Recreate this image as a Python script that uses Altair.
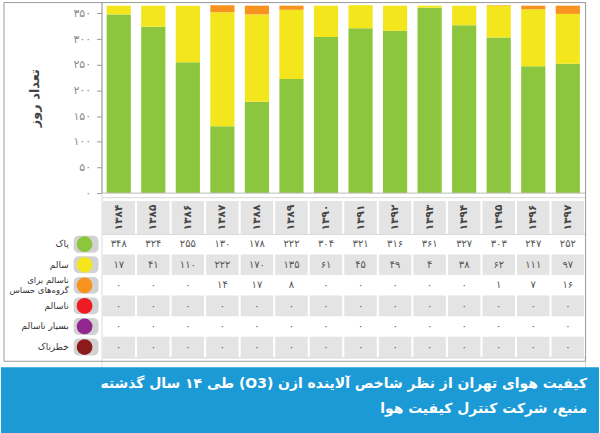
import altair as alt
import pandas as pd

years = [1384, 1385, 1386, 1387, 1388, 1389, 1390, 1391, 1392, 1393, 1394, 1395, 1396, 1397]
clean = [348, 324, 255, 130, 178, 222, 304, 321, 316, 361, 327, 303, 247, 252]
healthy = [17, 41, 110, 222, 170, 135, 61, 45, 49, 4, 38, 62, 111, 97]
sensitive = [0, 0, 0, 14, 17, 8, 0, 0, 0, 0, 0, 1, 7, 16]
unhealthy = [0] * 14
very_unhealthy = [0] * 14
hazardous = [0] * 14

categories = ["پاک", "سالم", "ناسالم برای\nگروه‌های حساس", "ناسالم", "بسیار ناسالم", "خطرناک"]
cat_colors = ["#8cc63f", "#f4e61c", "#f7931e", "#ed1c24", "#92278f", "#8b1a1a"]
series = [clean, healthy, sensitive, unhealthy, very_unhealthy, hazardous]

y_title = "تعداد روز"
y_ticks = [0, 50, 100, 150, 200, 250, 300, 350]
caption_lines = ["کیفیت هوای تهران از نظر شاخص آلاینده ازن (O3) طی ۱۴ سال گذشته",
                 "منبع، شرکت کنترل کیفیت هوا"]

FONT = "DejaVu Sans"
FA = str.maketrans("0123456789", "۰۱۲۳۴۵۶۷۸۹")
RLE, PDF = "\u202b", "\u202c"


def fa(v):
    return str(v).translate(FA)


def rtl(s):
    return RLE + s + PDF


label_expr = "datum.label"
for d, p in zip("0123456789", "۰۱۲۳۴۵۶۷۸۹"):
    label_expr = f"replace({label_expr}, regexp('{d}', 'g'), '{p}')"

rows = []
for ci, (cat, vals) in enumerate(zip(categories, series)):
    for y, v in zip(years, vals):
        rows.append({"year": str(y), "year_fa": fa(y), "cat": cat, "ci": ci,
                     "days": v, "days_fa": fa(v)})
df = pd.DataFrame(rows)
year_str = [str(y) for y in years]

W = 486
Y_SCALE = alt.Scale(domain=[0, 372], range=[192, 0], nice=False)
Y_AXIS = alt.Axis(values=y_ticks, title=y_title, grid=False,
                  labelExpr=label_expr, labelColor="#8a8a8a", labelFontSize=11,
                  labelOverlap=False, labelPadding=6, tickColor="#9a9a9a",
                  tickSize=5, domainColor="#9a9a9a", titleFontSize=13,
                  titleFontWeight="bold", titleColor="#444", titlePadding=32)
color_scale = alt.Scale(domain=categories, range=cat_colors)
x_bar = alt.X("year:N", sort=year_str, axis=None,
              scale=alt.Scale(paddingInner=0.3, paddingOuter=0.15))
x_cell = alt.X("year:N", sort=year_str, axis=None,
               scale=alt.Scale(paddingInner=0.06, paddingOuter=0.03))

# ---- bars panel
bars = alt.Chart(df[df.ci < 3]).mark_bar().encode(
    x=x_bar,
    y=alt.Y("days:Q", stack="zero", scale=Y_SCALE, axis=Y_AXIS, title=y_title),
    color=alt.Color("cat:N", scale=color_scale, legend=None),
    order=alt.Order("ci:Q"),
)
baseline = alt.Chart(pd.DataFrame({"days": [0]})).mark_rule(color="#bbbbbb").encode(
    y=alt.Y("days:Q", scale=Y_SCALE, axis=Y_AXIS, title=y_title)
)
bar_panel = alt.layer(bars, baseline).properties(width=W, height=196)

# ---- header panel
hdr_df = df[df.ci == 0]
hdr_rect = alt.Chart(hdr_df).mark_rect(color="#e4e4e4").encode(
    x=x_cell, y=alt.value(4), y2=alt.value(37))
hdr_text = alt.Chart(hdr_df).mark_text(angle=270, fontSize=10.5, fontWeight="bold",
                                       color="#444", font=FONT).encode(
    x=x_cell, y=alt.value(20.5), text="year_fa:N")
hdr_panel = alt.layer(hdr_rect, hdr_text).properties(width=W, height=37)

# ---- body panel
y_row = alt.Y("cat:N", sort=categories, axis=None,
              scale=alt.Scale(paddingInner=0, paddingOuter=0))
gray_rows = alt.Chart(df[df.ci.isin([1, 3, 5])]).mark_rect(color="#e4e4e4").encode(
    x=x_cell, y=y_row)
vals = alt.Chart(df).mark_text(fontSize=10, color="#555", font=FONT).encode(
    x=x_cell, y=y_row, text="days_fa:N")
leg_df = pd.DataFrame({"cat": categories, "ci": list(range(6)),
                       "multi": ["\n" in c for c in categories]})
pill = alt.Chart(leg_df).mark_rect(color="#d2d2d2", cornerRadius=5,
                                   height={"band": 0.82}).encode(
    x=alt.value(-28), x2=alt.value(-3), y=y_row)
dot = alt.Chart(leg_df).mark_circle(size=250, opacity=1).encode(
    x=alt.value(-17), y=y_row,
    color=alt.Color("cat:N", scale=color_scale, legend=None))
leg_single = alt.Chart(leg_df[~leg_df.multi]).mark_text(
    align="right", fontSize=9, color="#333", font=FONT).encode(
    x=alt.value(-33), y=y_row, text="cat:N")
leg_multi = alt.Chart(leg_df[leg_df.multi]).mark_text(
    align="right", fontSize=8.5, color="#333", font=FONT, lineBreak="\n",
    lineHeight=10, dy=-5).encode(
    x=alt.value(-33), y=y_row, text="cat:N")
body_panel = alt.layer(gray_rows, vals, pill, dot, leg_single, leg_multi).properties(
    width=W, height=124)

# ---- caption panel
one = pd.DataFrame({"a": [0]})
border = alt.Chart(one).mark_rect(fillOpacity=0, stroke="#9a9a9a", strokeWidth=1).encode(
    x=alt.value(-98), x2=alt.value(486.5), y=alt.value(-356.5), y2=alt.value(4))
blue = alt.Chart(one).mark_rect(color="#1c9ad6").encode(
    x=alt.value(-101), x2=alt.value(500), y=alt.value(10), y2=alt.value(76))
cap_df = pd.DataFrame({"t": [rtl(s) for s in caption_lines], "i": [0, 1]})
cap1 = alt.Chart(cap_df[cap_df.i == 0]).mark_text(
    align="right", fontSize=14, fontWeight="bold", color="white", font=FONT).encode(
    x=alt.value(488), y=alt.value(27), text="t:N")
cap2 = alt.Chart(cap_df[cap_df.i == 1]).mark_text(
    align="right", fontSize=14, fontWeight="bold", color="white", font=FONT).encode(
    x=alt.value(488), y=alt.value(52), text="t:N")
cap_panel = alt.layer(border, blue, cap1, cap2).properties(width=W, height=76)

chart = alt.vconcat(bar_panel, hdr_panel, body_panel, cap_panel, spacing=0,
                    bounds="flush").properties(padding=0).configure_view(
    stroke=None).configure(font=FONT)

chart.save("out.html", embed_options={"renderer": "svg", "actions": False})
